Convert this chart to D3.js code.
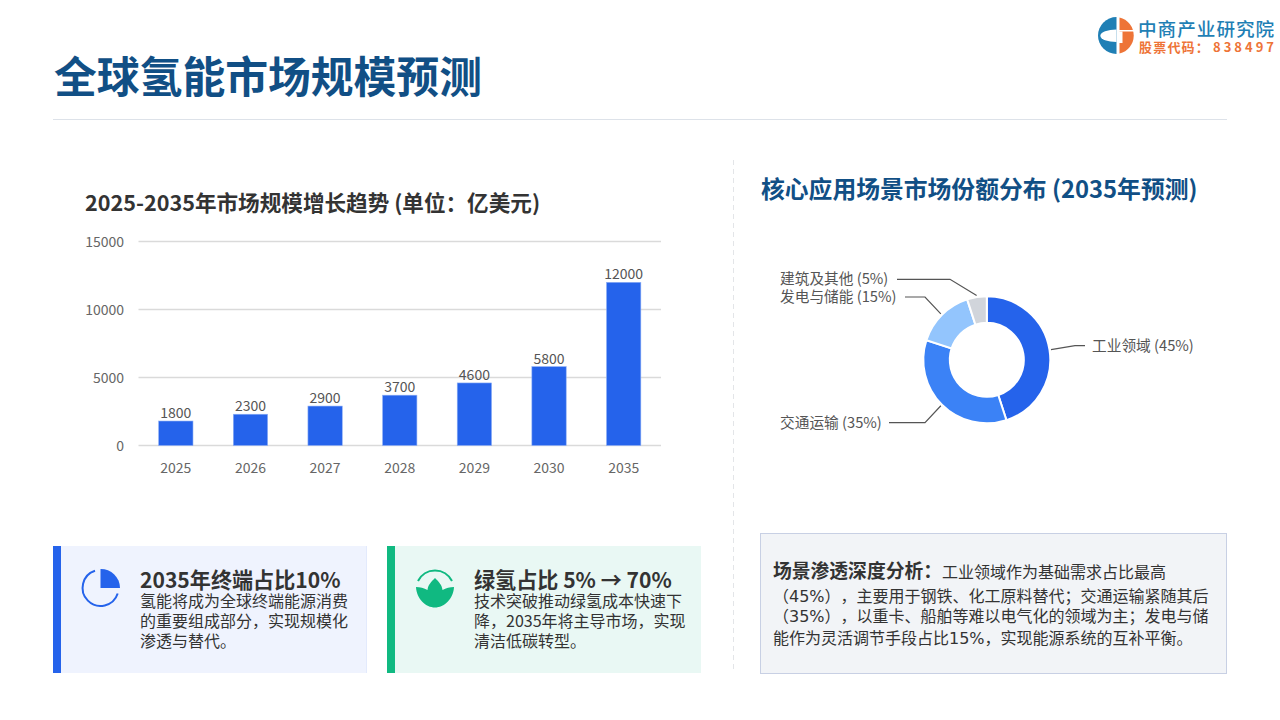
<!doctype html>
<html>
<head>
<meta charset="utf-8"/>
<title>全球氢能市场规模预测</title>
<script src="https://d3js.org/d3.v7.min.js"></script>
<style>
html,body{margin:0;padding:0;background:#fff;}
svg{display:block;font-family:"Noto Sans CJK SC","Noto Sans",sans-serif;}
.note{text-spacing-trim:space-all;font-feature-settings:"chws" 0;}
</style>
</head>
<body>
<script>
var years = ["2025","2026","2027","2028","2029","2030","2035"];
var marketSize = [1800,2300,2900,3700,4600,5800,12000];
var yTicks = [0,5000,10000,15000];
var sceneNames = ["工业领域","交通运输","发电与储能","建筑及其他"];
var sceneShare = [45,35,15,5];
var sceneColors = ["#2563eb","#3b82f6","#93c5fd","#d1d5db"];
var card1Lines = ["氢能将成为全球终端能源消费","的重要组成部分，实现规模化","渗透与替代。"];
var card2Lines = ["技术突破推动绿氢成本快速下","降，2035年将主导市场，实现","清洁低碳转型。"];
var noteLines = ["（45%），主要用于钢铁、化工原料替代；交通运输紧随其后","（35%），以重卡、船舶等难以电气化的领域为主；发电与储","能作为灵活调节手段占比15%，实现能源系统的互补平衡。"];

var svg = d3.select("body").append("svg").attr("width",1280).attr("height",720);

function txt(x,y,s,size,color,weight,anchor){
	return svg.append("text").attr("x",x).attr("y",y).text(s)
		.attr("font-size",size).attr("fill",color)
		.attr("font-weight",weight||400)
		.attr("text-anchor",anchor||"start");
}
function rect(x,y,w,h,fill){
	return svg.append("rect").attr("x",x).attr("y",y).attr("width",w).attr("height",h).attr("fill",fill);
}

// header
txt(54,93,"全球氢能市场规模预测",42.8,"#114f85",700);
rect(53,119,1174,1,"#dde2e9");

// logo
var logo = svg.append("g").attr("transform","translate(1115.5,35.5)");
logo.append("path").attr("fill","#1f7fb5")
	.attr("d","M1,-18.5 A18.5,18.5 0 0 0 1,18.5 Z");
logo.append("path").attr("fill","#fff")
	.attr("d","M1,-6 A15.5,6 0 0 0 1,6.5 Z");
logo.append("path").attr("fill","#ee7437")
	.attr("d","M4,-18 A18.5,18.5 0 0 1 4,18 Z");
logo.append("rect").attr("x",3).attr("y",-5.5).attr("width",16).attr("height",1.5).attr("fill","#fff");
logo.append("rect").attr("x",3).attr("y",-4).attr("width",4).attr("height",11.5).attr("fill","#fff");
txt(1138,36,"中商产业研究院",18.6,"#1f7fb5",500).attr("letter-spacing",1);
txt(1139,52,"股票代码：",13,"#ee7437",700).attr("letter-spacing",1.2);
txt(1213,52,"838497",13,"#ee7437",700).attr("letter-spacing",3);

// bar chart
txt(85,211,"2025-2035年市场规模增长趋势 (单位：亿美元)",21.6,"#333333",700);

var x = d3.scaleBand().domain(years).range([138.5,661]).paddingInner(0.54).paddingOuter(0.27);
var y = d3.scaleLinear().domain([0,15000]).range([445.5,241.5]);

svg.append("g").selectAll("line").data(yTicks).enter().append("line")
	.attr("x1",138.5).attr("x2",661)
	.attr("y1",function(d){return y(d);}).attr("y2",function(d){return y(d);})
	.attr("stroke","#dadada").attr("stroke-width",1.5);

svg.append("g").selectAll("text").data(yTicks).enter().append("text")
	.attr("x",124).attr("y",function(d){return y(d)+5;})
	.attr("text-anchor","end").attr("font-size",14).attr("fill","#666")
	.text(function(d){return d;});

svg.append("g").selectAll("rect").data(marketSize).enter().append("rect")
	.attr("x",function(d,i){return x(years[i]);})
	.attr("y",function(d){return y(d);})
	.attr("width",x.bandwidth())
	.attr("height",function(d){return y(0)-y(d);})
	.attr("fill","#2563eb")
	.attr("stroke","#8fb0f5").attr("stroke-width",0.6);

svg.append("g").selectAll("text").data(marketSize).enter().append("text")
	.attr("x",function(d,i){return x(years[i])+x.bandwidth()/2;})
	.attr("y",function(d){return y(d)-3;})
	.attr("text-anchor","middle").attr("font-size",14).attr("fill","#555")
	.text(function(d){return d;});

svg.append("g").selectAll("text").data(years).enter().append("text")
	.attr("x",function(d){return x(d)+x.bandwidth()/2;})
	.attr("y",473)
	.attr("text-anchor","middle").attr("font-size",14).attr("fill","#666")
	.text(function(d){return d;});

// divider
svg.append("line").attr("x1",733.5).attr("x2",733.5).attr("y1",160).attr("y2",673)
	.attr("stroke","#e3e5e8").attr("stroke-dasharray","5,4");

// donut
txt(761,198,"核心应用场景市场份额分布 (2035年预测)",23.8,"#114f85",700);

var cx = 986.8, cy = 359.8, rOut = 63.5, rIn = 37;
var pie = d3.pie().sort(null);
var arcs = pie(sceneShare);
var arc = d3.arc().innerRadius(rIn).outerRadius(rOut);
var donut = svg.append("g").attr("transform","translate("+cx+","+cy+")");
donut.selectAll("path").data(arcs).enter().append("path")
	.attr("d",arc)
	.attr("fill",function(d,i){return sceneColors[i];})
	.attr("stroke","#fff").attr("stroke-width",2);

// leader lines: elbow height and label edge per slice
var elbowY = [345.7,422.7,297,279.3];
var elbowX = [1075,925,925,950];
var lineEnd = [1085,889,905,897];
var labelX = [1092,780,780,780];
arcs.forEach(function(d,i){
	var a = (d.startAngle+d.endAngle)/2;
	var sx = cx+(rOut+1.5)*Math.sin(a), sy = cy-(rOut+1.5)*Math.cos(a);
	svg.append("polyline")
		.attr("points",[[sx,sy],[elbowX[i],elbowY[i]],[lineEnd[i],elbowY[i]]].join(" "))
		.attr("fill","none").attr("stroke","#555").attr("stroke-width",1.2);
	txt(labelX[i],elbowY[i]+5,sceneNames[i]+" ("+sceneShare[i]+"%)",14.7,"#555");
});

// cards
rect(53,546,314,127,"#eff3fe");
rect(53,546,8,127,"#2563eb");
rect(366,546,1,127,"#e3eafc");
rect(387,546,314,127,"#e9f8f4");
rect(387,546,8,127,"#10b981");

// pie icon
var ic1 = svg.append("g").attr("transform","translate(100.5,588)");
ic1.append("path").attr("fill","none").attr("stroke","#2563eb").attr("stroke-width",2)
	.attr("d","M17.2,5.5 A18,18 0 1 1 -5.5,-17.2");
ic1.append("path").attr("fill","#2563eb").attr("d","M0,0 L0,-19 A19,19 0 0 1 19.5,0 Z");

// lotus icon
var ic2 = svg.append("g").attr("transform","translate(435,588)");
ic2.append("path").attr("fill","none").attr("stroke","#10b981").attr("stroke-width",2)
	.attr("d","M-17,-7 A19,19 0 0 1 17,-7");
ic2.append("path").attr("fill","#10b981")
	.attr("d","M0,-10 C-4,-6 -7,-3 -7.5,2 C-11,0 -15,-1 -19,-1 C-18.5,11 -9,19.5 0,19.5 C9,19.5 18.5,11 19,-1 C15,-1 11,0 7.5,2 C7,-3 4,-6 0,-10 Z");

txt(140,588,"2035年终端占比10%",21.1,"#333",700);
card1Lines.forEach(function(s,i){ txt(140,607+i*20,s,16,"#333"); });
txt(474,588,"绿氢占比 5% → 70%",21.1,"#333",700);
card2Lines.forEach(function(s,i){ txt(474,607+i*20,s,16,"#333"); });

// note box
svg.append("rect").attr("x",760.5).attr("y",533.5).attr("width",466).attr("height",140)
	.attr("fill","#f2f4f7").attr("stroke","#c8d0e4");
var noteFont = '"DejaVu Sans","Noto Sans CJK SC",sans-serif';
var noteY = [602,621.5,644];
txt(773,578,"场景渗透深度分析：",18.8,"#333",700);
txt(942,578,"工业领域作为基础需求占比最高",16,"#333");
noteLines.forEach(function(s,i){ txt(773,noteY[i],s,16,"#333").attr("font-family",noteFont).attr("class","note"); });
</script>
</body>
</html>
